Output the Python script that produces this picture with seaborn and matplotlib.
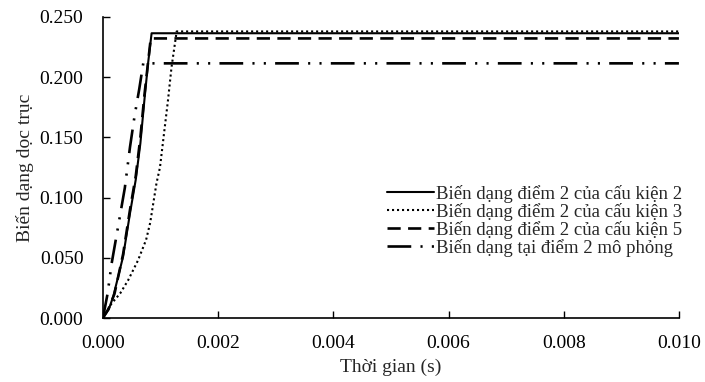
import pandas as pd
import numpy as np
import matplotlib
matplotlib.use("Agg")
import matplotlib.pyplot as plt
import seaborn as sns

# Data
t_ck2 = [0, 0.0001, 0.00018, 0.00035, 0.00047, 0.00057, 0.00065, 0.00072, 0.00078, 0.000845, 0.010]
v_ck2 = [0, 0.007, 0.018, 0.051, 0.087, 0.115, 0.145, 0.181, 0.210, 0.2365, 0.2365]

t_ck3 = [0, 0.00015, 0.0003, 0.00044, 0.00061, 0.00075, 0.00082, 0.00093, 0.00099, 0.00106, 0.00113, 0.00119, 0.00128, 0.010]
v_ck3 = [0, 0.012, 0.0205, 0.0316, 0.048, 0.065, 0.079, 0.112, 0.125, 0.153, 0.181, 0.208, 0.238, 0.238]

t_ck5 = [0, 0.0001, 0.0002, 0.00035, 0.00047, 0.00057, 0.00065, 0.00072, 0.00083, 0.010]
v_ck5 = [0, 0.008, 0.020, 0.053, 0.090, 0.118, 0.150, 0.185, 0.2322, 0.2322]

t_sim = [0, 0.00008, 0.00015, 0.00026, 0.00038, 0.00047, 0.00055, 0.00063, 0.0007, 0.010]
v_sim = [0, 0.020, 0.045, 0.075, 0.108, 0.142, 0.168, 0.190, 0.2115, 0.2115]

labels = ["Biến dạng điểm 2 của cấu kiện 2",
          "Biến dạng điểm 2 của cấu kiện 3",
          "Biến dạng điểm 2 của cấu kiện 5",
          "Biến dạng tại điểm 2 mô phỏng"]

sns.set_style("ticks")
plt.rcParams['font.family'] = ['Liberation Serif', 'DejaVu Serif']
plt.rcParams['font.size'] = 14

fig = plt.figure(figsize=(7.05, 3.82), dpi=100)
ax = fig.add_axes([0.146, 0.1675, 0.817, 0.788])

series = [(t_ck2, v_ck2, labels[0], dict(lw=1.5, linestyle="-")),
          (t_ck3, v_ck3, labels[1], dict(lw=1.5, dashes=(1, 1.4))),
          (t_ck5, v_ck5, labels[2], dict(lw=1.9, dashes=(5, 2.8))),
          (t_sim, v_sim, labels[3], dict(lw=1.9, dashes=(9, 3.5, 0.8, 3.5, 0.8, 3.5)))]

for t, v, lab, kw in series:
    df = pd.DataFrame({"t": t, "v": v})
    sns.lineplot(data=df, x="t", y="v", ax=ax, color="black", label=lab, **kw)

ax.set_xlim(0, 0.010)
ax.set_ylim(0, 0.250)
ax.set_xticks(np.arange(0, 0.0101, 0.002))
ax.set_yticks(np.arange(0, 0.2501, 0.05))
ax.xaxis.set_major_formatter(matplotlib.ticker.FormatStrFormatter("%.3f"))
ax.yaxis.set_major_formatter(matplotlib.ticker.FormatStrFormatter("%.3f"))
ax.tick_params(direction="in", length=5, width=1, colors="black", labelsize=14)
ax.tick_params(axis="y", pad=14)
ax.tick_params(axis="x", pad=12)
for s in ["top", "right"]:
    ax.spines[s].set_visible(False)
for s in ["left", "bottom"]:
    ax.spines[s].set_color("black")
    ax.spines[s].set_linewidth(1.2)

ax.set_xlabel("Thời gian (s)", fontsize=14, labelpad=5)
ax.set_ylabel("Biến dạng dọc trục", fontsize=14, labelpad=4)

# legend: frameless, right side, rows kept close like the original
ax.legend(loc="center right", bbox_to_anchor=(692 / 705, (382 - 221) / 382),
          bbox_transform=fig.transFigure, frameon=False, fontsize=13.5,
          handlelength=2.5, handletextpad=0.15, labelspacing=0.0, borderpad=0)

plt.savefig("out.png", dpi=100)
